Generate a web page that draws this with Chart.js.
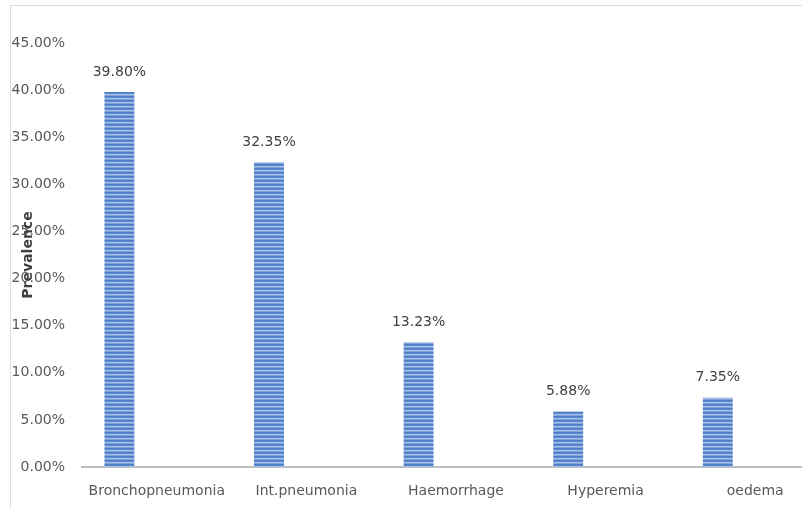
<!DOCTYPE html>
<html>
<head>
<meta charset="utf-8">
<script src="https://cdn.jsdelivr.net/npm/chart.js@4.4.0/dist/chart.umd.min.js"></script>
<style>
  html, body { margin: 0; padding: 0; background: #fff; overflow: hidden; }
  #chart { display: block; }
</style>
</head>
<body>
<canvas id="chart" width="830" height="508"></canvas>
<script>
const categories = ["Bronchopneumonia", "Int.pneumonia", "Haemorrhage", "Hyperemia", "oedema"];
const prevalence = [39.80, 32.35, 13.23, 5.88, 7.35];
const emptySeries = [null, null, null, null, null];
const yTicks = { min: 0, max: 45, step: 5 };

// horizontal stripe fill like the original bars
function stripePattern(ctx) {
  const c = document.createElement("canvas");
  c.width = 4;
  c.height = 4;
  const p = c.getContext("2d");
  const rows = ["#4e7dc4", "#5b8acf", "#a6c0e8", "#7fa3da"];
  rows.forEach((col, i) => {
    p.fillStyle = col;
    p.fillRect(0, i, 4, 1);
  });
  return ctx.createPattern(c, "repeat");
}

const frame = {
  id: "frame",
  beforeDraw(chart) {
    const ctx = chart.ctx;
    ctx.save();
    ctx.strokeStyle = "#dcdcdc";
    ctx.lineWidth = 1;
    ctx.strokeRect(10.5, 5.5, 1000, 1000);
    ctx.restore();
  }
};

const valueLabels = {
  id: "valueLabels",
  afterDatasetsDraw(chart) {
    const ctx = chart.ctx;
    const meta = chart.getDatasetMeta(0);
    ctx.save();
    ctx.font = "14px 'DejaVu Sans'";
    ctx.fillStyle = "#404040";
    ctx.textAlign = "center";
    ctx.textBaseline = "middle";
    meta.data.forEach((bar, i) => {
      ctx.fillText(prevalence[i].toFixed(2) + "%", bar.x, bar.y - 20);
    });
    // axis title, overlapping the tick labels as in the original
    const a = chart.chartArea;
    ctx.translate(28, (a.top + a.bottom) / 2);
    ctx.rotate(-Math.PI / 2);
    ctx.font = "bold 14px 'DejaVu Sans'";
    ctx.fillStyle = "#404040";
    ctx.fillText("Prevalence", 0, 0);
    ctx.restore();
  }
};

const ctx = document.getElementById("chart").getContext("2d");

new Chart(ctx, {
  type: "bar",
  data: {
    labels: categories,
    datasets: [
      {
        label: "Prevalence",
        data: prevalence,
        backgroundColor: stripePattern(ctx),
        borderWidth: 0,
        categoryPercentage: 1.0,
        barPercentage: 0.4
      },
      {
        label: "",
        data: emptySeries,
        backgroundColor: "rgba(0,0,0,0)",
        categoryPercentage: 1.0,
        barPercentage: 0.4
      }
    ]
  },
  options: {
    responsive: false,
    animation: false,
    layout: { padding: { left: 10, top: 43, right: 0, bottom: 0 } },
    plugins: {
      legend: { display: false },
      tooltip: { enabled: false }
    },
    scales: {
      x: {
        grid: { display: false, drawTicks: false },
        border: { display: true, color: "#bfbfbf", width: 2 },
        ticks: {
          color: "#595959",
          font: { family: "DejaVu Sans", size: 14 },
          padding: 16,
          maxRotation: 0,
          autoSkip: false
        },
        afterFit(scale) { scale.height = 41; }
      },
      y: {
        min: yTicks.min,
        max: yTicks.max,
        grid: { display: false, drawTicks: false },
        border: { display: false },
        ticks: {
          stepSize: yTicks.step,
          color: "#595959",
          font: { family: "DejaVu Sans", size: 14 },
          padding: 17,
          callback: v => v.toFixed(2) + "%"
        },
        afterFit(scale) { scale.width = 72; }
      }
    }
  },
  plugins: [frame, valueLabels]
});
</script>
</body>
</html>
